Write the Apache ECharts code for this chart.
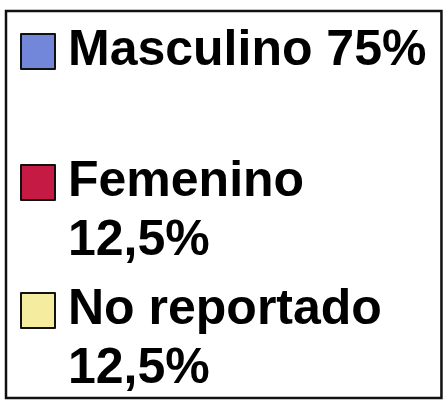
<!DOCTYPE html>
<html>
<head>
<meta charset="utf-8">
<script src="https://cdn.jsdelivr.net/npm/echarts@6/dist/echarts.min.js"></script>
<style>
  html, body { margin: 0; padding: 0; background: #fff; }
  #chart { width: 443px; height: 403px; }
</style>
</head>
<body>
<div id="chart"></div>
<script>
// sexo de los casos
const categories = ['Masculino', 'Femenino', 'No reportado']
const percents = [75, 12.5, 12.5]
const colors = ['#7387da', '#c41a44', '#f5eca0']
// el texto se parte en dos renglones cuando no cabe
const splitLabel = [false, true, true]

const LINE = 59
const fmtPct = v => String(v).replace('.', ',') + '%'

// con dos renglones se antepone uno vacio: el texto se centra en el cuadro,
// asi el renglon del nombre queda a la altura del cuadro
const labelOf = name => {
    const i = categories.indexOf(name)
    return splitLabel[i]
        ? ' \n' + name + '\n' + fmtPct(percents[i])
        : name + ' ' + fmtPct(percents[i])
}

const baseText = {
    fontFamily: 'Liberation Sans, Arial, sans-serif',
    fontWeight: 'bold',
    fontSize: 50,
    color: '#000',
    lineHeight: LINE,
    overflow: 'none',
    padding: [0, 0, 0, 8]
}

const legendFor = (i, pos) => Object.assign({
    orient: 'vertical',
    itemWidth: 34,
    itemHeight: 35,
    icon: 'rect',
    selectedMode: false,
    itemStyle: { borderColor: '#111', borderWidth: 2 },
    formatter: labelOf,
    textStyle: baseText,
    data: [categories[i]]
}, pos)

const chart = echarts.init(document.getElementById('chart'))

chart.setOption({
    animation: false,
    color: colors,
    legend: [
        // la primera leyenda lleva el marco de todo el recuadro
        legendFor(0, {
            left: 6, top: 11,
            padding: [11, 15, 317, 14],
            borderColor: '#111',
            borderWidth: 2.5,
            textStyle: Object.assign({}, baseText, { width: 358 })
        }),
        legendFor(1, { left: 20, top: 94, padding: 0 }),
        legendFor(2, { left: 20, top: 222, padding: 0 })
    ],
    series: [{
        type: 'pie',
        radius: 0,
        silent: true,
        label: { show: false },
        labelLine: { show: false },
        data: categories.map((c, i) => ({ name: c, value: percents[i] }))
    }]
})
</script>
</body>
</html>
